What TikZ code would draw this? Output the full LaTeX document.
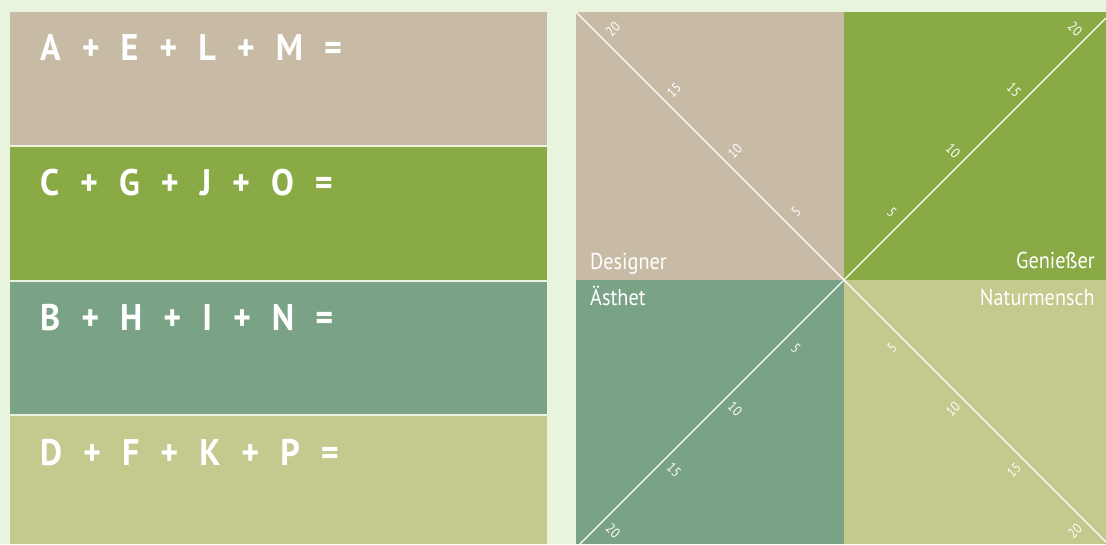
\documentclass[tikz,border=0pt]{standalone}
\usepackage{fontspec}
\setmainfont{PT Sans}
\newfontfamily\lblfont[FakeStretch=0.88]{PT Sans}
\newfontfamily\hdrfont[FakeStretch=0.92]{PT Sans}
\definecolor{bgc}{HTML}{E9F4DF}
\definecolor{beige}{HTML}{C7BBA5}
\definecolor{olive}{HTML}{8AAA46}
\definecolor{sage}{HTML}{7AA286}
\definecolor{lolive}{HTML}{C4C98D}
\newcommand\gp{\hspace{21pt}}
\newcommand\eqrow[4]{#1\gp+\gp#2\gp+\gp#3\gp+\gp#4\gp=}
\tikzset{
  hdr/.style={text=white, inner sep=0pt, anchor=base west, font=\hdrfont\bfseries\fontsize{37}{37}\selectfont},
  qlbl/.style={text=white, inner sep=0pt, font=\lblfont\fontsize{23}{23}\selectfont},
  num/.style={text=white, inner sep=0pt, font=\lblfont\fontsize{14}{14}\selectfont},
  diag/.style={white, line width=1.2pt}
}
\begin{document}
\begin{tikzpicture}[x=1pt,y=-1pt]
\fill[bgc] (0,0) rectangle (1106,544);
\useasboundingbox (0,0) rectangle (1106,544);
% left bands
\fill[beige]  (10,12)  rectangle (547,145);
\fill[olive]  (10,147) rectangle (547,280);
\fill[sage]   (10,282) rectangle (547,414);
\fill[lolive] (10,416) rectangle (547,544);
\node[hdr] (h1) at (40,60)  {\eqrow{A}{E}{L}{M}};
\node[hdr] (h2) at (40,195) {\eqrow{C}{G}{J}{O}};
\node[hdr] (h3) at (40,330) {\eqrow{B}{H}{I}{N}};
\node[hdr] (h4) at (40,465) {\eqrow{D}{F}{K}{P}};
% right quadrants
\fill[beige]  (576,12)  rectangle (844,280);
\fill[olive]  (844,12)  rectangle (1106,280);
\fill[sage]   (576,280) rectangle (844,544);
\fill[lolive] (844,280) rectangle (1106,544);
\coordinate (c) at (844,280);
\coordinate (etl) at (576,12);
\coordinate (etr) at (1106,18);
\coordinate (ebr) at (1106,542);
\coordinate (ebl) at (580,544);
\draw[diag] (c) -- (etl);
\draw[diag] (c) -- (etr);
\draw[diag] (c) -- (ebr);
\draw[diag] (c) -- (ebl);
\foreach \k/\t in {1/5,2/10,3/15,4/20}{
  \pgfmathsetmacro\s{61*\k-3}
  \node[num, rotate=45]  (tl\k) at ({844-\s+10},{280-\s-10}) {\t};
  \node[num, rotate=-45] (tr\k) at ({844+\s-10},{280-\s-10}) {\t};
  \node[num, rotate=45]  (br\k) at ({844+\s-10},{280+\s+10}) {\t};
  \node[num, rotate=-45] (bl\k) at ({844-\s+10},{280+\s+10}) {\t};
}
\node[qlbl, anchor=base west] (designer) at (590,269) {Designer};
\node[qlbl, anchor=base west] (aesthet) at (590,305) {Ästhet};
\node[qlbl, anchor=base east] (geniesser) at (1095,268) {Genießer};
\node[qlbl, anchor=base east] (naturmensch) at (1095,305) {Naturmensch};
\end{tikzpicture}
\end{document}
